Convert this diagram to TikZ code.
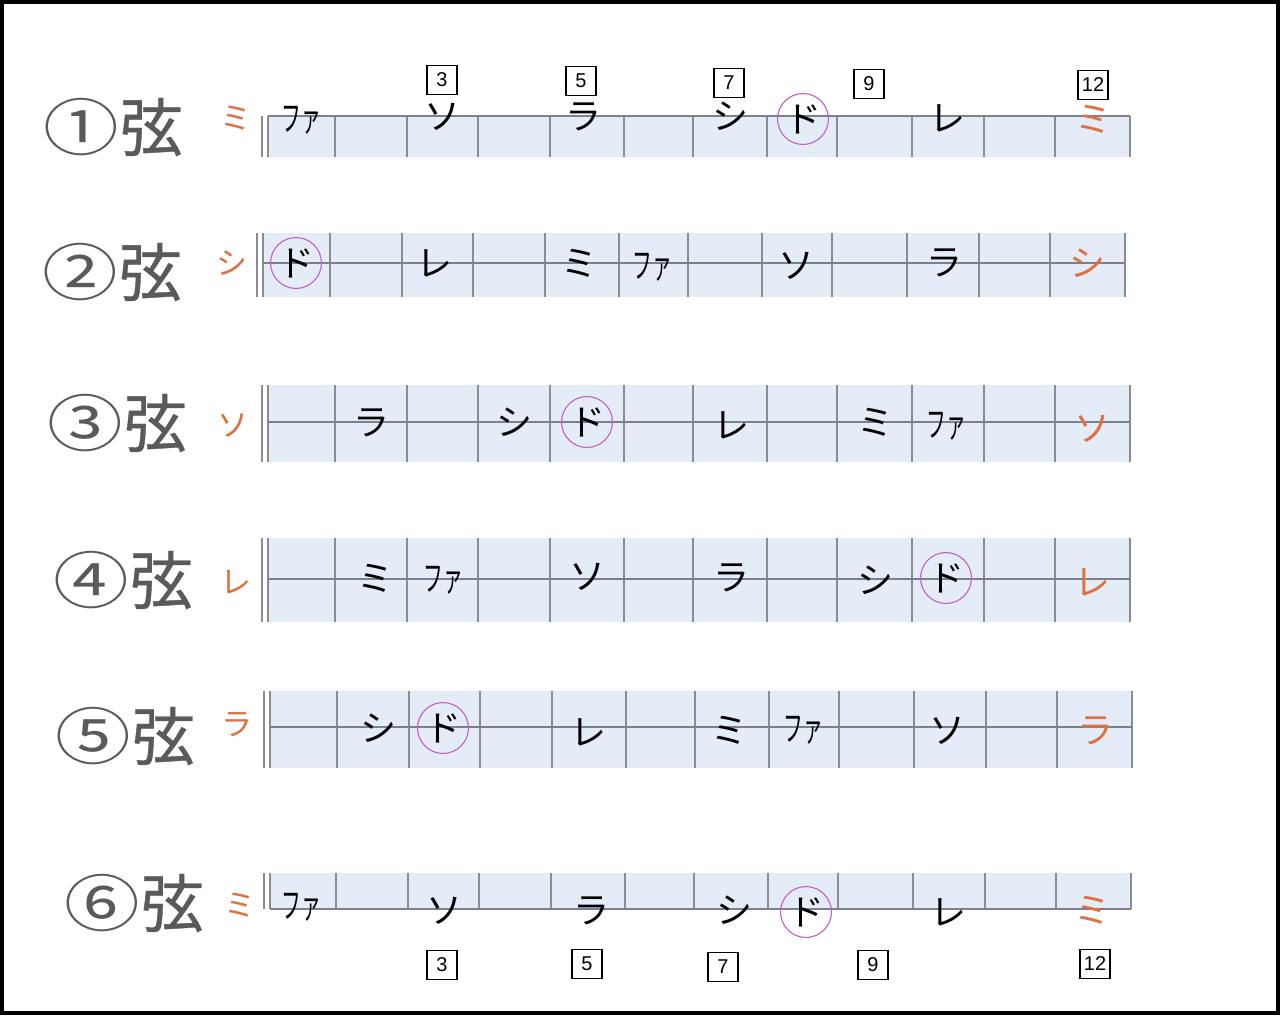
\documentclass[tikz,border=0pt]{standalone}
\usepackage{fontspec}
\usepackage{graphicx}
\newfontfamily\jp{Noto Sans CJK JP}
\newfontfamily\jpb[FakeBold=0.6]{Noto Sans CJK JP}
\newfontfamily\digitfont{Liberation Sans}
\definecolor{stripblue}{HTML}{E4ECF8}
\definecolor{fretgray}{HTML}{8A8C90}
\definecolor{stringgray}{HTML}{7A8090}
\definecolor{noteorange}{HTML}{E07040}
\definecolor{domagenta}{HTML}{C060C8}
\definecolor{labelgray}{HTML}{5A5A5A}
\newcommand\fboard[6]{%
  \fill[stripblue] (#1,#3) rectangle (#2,#4);
  \foreach \f in {335,407,478,550,624,693,767,837,912,984,1055,1130}
    \draw[fretline] ({\f+#6},#3) -- ({\f+#6},#4);
  \draw[fretline] ({#1-6},#3) -- ({#1-6},#4);
  \draw[fretline] (#1,#3) -- (#1,#4);
  \draw[stringline] (#1,#5) -- (#2,#5);
}
\newcommand\fa{\scalebox{0.55}[1]{ファ}}
\newcommand\lab[1]{{\jp\scalebox{1.2}[0.98]{#1}}\kern1pt 弦}
\begin{document}
\begin{tikzpicture}[x=1pt,y=-1pt,
  fretline/.style={draw=fretgray, line width=1.3pt},
  stringline/.style={draw=stringgray, line width=1.4pt},
  note/.style={font=\jp\fontsize{36}{36}\selectfont, inner sep=0pt, text height=31.7pt, text depth=4.3pt},
  opennote/.style={note, text=noteorange},
  leftnote/.style={font=\jp\fontsize{31}{31}\selectfont, text=noteorange, inner sep=0pt, text height=27.3pt, text depth=3.7pt},
  donote/.style={note, circle, draw=domagenta, line width=1.1pt, minimum size=43pt},
  fretnum/.style={draw=black, line width=1.9pt, font=\digitfont\fontsize{20}{20}\selectfont, minimum width=30pt, minimum height=29pt, inner sep=1pt},
  strlabel/.style={font=\jpb\fontsize{63}{63}\selectfont, text=labelgray, inner sep=0pt, text height=55.4pt, text depth=7.6pt}
]
\useasboundingbox (0,0) rectangle (1280,1015);
\fill[white] (0,0) rectangle (1280,1015);
\draw[line width=4pt] (2,2) rectangle (1278,1013);

% string 1
\fboard{268}{1130}{116}{157}{116}{0}
\node[strlabel] (l1) at (113,127) {\lab{①}};
\node[leftnote] (o1) at (236,118) {ミ};
\node[note] (s1a) at (301,118) {\fa};
\node[note] (s1b) at (442,116) {ソ};
\node[note] (s1c) at (583,116) {ラ};
\node[note] (s1d) at (730,116) {シ};
\node[donote] (s1e) at (803,119) {ド};
\node[note] (s1f) at (947,118) {レ};
\node[opennote] (s1g) at (1093,119) {ミ};
\node[fretnum] (t3) at (442,80) {3};
\node[fretnum] (t5) at (581,81) {5};
\node[fretnum] (t7) at (729,83) {7};
\node[fretnum] (t9) at (869,84) {9};
\node[fretnum] (t12) at (1093,85) {12};

% string 2
\fboard{263}{1124}{233}{297}{263}{-5}
\node[strlabel] (l2) at (112,272) {\lab{②}};
\node[leftnote] (o2) at (232,263) {シ};
\node[donote] (s2a) at (296,263) {ド};
\node[note] (s2b) at (434,263) {レ};
\node[note] (s2c) at (579,263) {ミ};
\node[note] (s2d) at (652,265) {\fa};
\node[note] (s2e) at (796,265) {ソ};
\node[note] (s2f) at (944,262) {ラ};
\node[opennote] (s2g) at (1087,263) {シ};

% string 3
\fboard{268}{1130}{385}{462}{422}{0}
\node[strlabel] (l3) at (117,423) {\lab{③}};
\node[leftnote] (o3) at (233,425) {ソ};
\node[note] (s3a) at (371,422) {ラ};
\node[note] (s3b) at (514,422) {シ};
\node[donote] (s3c) at (587,422) {ド};
\node[note] (s3d) at (731,425) {レ};
\node[note] (s3e) at (875,422) {ミ};
\node[note] (s3f) at (946,424) {\fa};
\node[opennote] (s3g) at (1092,428) {ソ};

% string 4
\fboard{268}{1130}{538}{622}{579}{0}
\node[strlabel] (l4) at (123,580) {\lab{④}};
\node[leftnote] (o4) at (236,582) {レ};
\node[note] (s4a) at (375,578) {ミ};
\node[note] (s4b) at (443,578) {\fa};
\node[note] (s4c) at (587,576) {ソ};
\node[note] (s4d) at (731,577) {ラ};
\node[note] (s4e) at (875,580) {シ};
\node[donote] (s4f) at (946,578) {ド};
\node[opennote] (s4g) at (1092,582) {レ};

% string 5
\fboard{270}{1132}{691}{768}{727}{2}
\node[strlabel] (l5) at (125,736) {\lab{⑤}};
\node[leftnote] (o5) at (237,724) {ラ};
\node[note] (s5a) at (378,728) {シ};
\node[donote] (s5b) at (443,728) {ド};
\node[note] (s5c) at (588,732) {レ};
\node[note] (s5d) at (729,730) {ミ};
\node[note] (s5e) at (803,728) {\fa};
\node[note] (s5f) at (947,730) {ソ};
\node[opennote] (s5g) at (1095,730) {ラ};

% string 6
\fboard{270}{1131}{873}{909}{909}{1}
\node[strlabel] (l6) at (134,903) {\lab{⑥}};
\node[leftnote] (o6) at (240,905) {ミ};
\node[note] (s6a) at (301,905) {\fa};
\node[note] (s6b) at (444,910) {ソ};
\node[note] (s6c) at (591,910) {ラ};
\node[note] (s6d) at (734,910) {シ};
\node[donote] (s6e) at (806,912) {ド};
\node[note] (s6f) at (948,912) {レ};
\node[opennote] (s6g) at (1092,910) {ミ};
\node[fretnum] (b3) at (442,965) {3};
\node[fretnum] (b5) at (587,964) {5};
\node[fretnum] (b7) at (723,967) {7};
\node[fretnum] (b9) at (873,965) {9};
\node[fretnum] (b12) at (1095,964) {12};
\end{tikzpicture}
\end{document}
